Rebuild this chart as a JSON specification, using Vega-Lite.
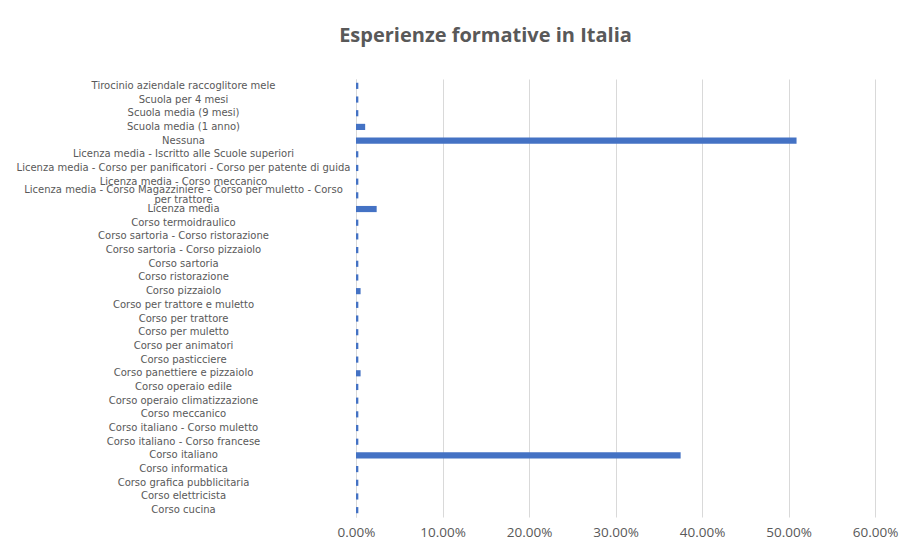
{
  "$schema": "https://vega.github.io/schema/vega-lite/v6.json",
  "autosize": {"type": "none"},
  "width": 519,
  "height": 438,
  "padding": {"left": 356, "top": 79, "right": 28, "bottom": 23},
  "background": "white",
  "title": {
    "text": "Esperienze formative in Italia",
    "font": "Open Sans",
    "fontSize": 20,
    "fontWeight": 700,
    "color": "#595959",
    "anchor": "middle",
    "frame": "group",
    "dx": -130,
    "offset": 33
  },
  "data": {
    "values": [
      {"cat": "Tirocinio aziendale raccoglitore mele", "v": 0.0027},
      {"cat": "Scuola per 4 mesi", "v": 0.0027},
      {"cat": "Scuola media (9 mesi)", "v": 0.0027},
      {"cat": "Scuola media (1 anno)", "v": 0.0106},
      {"cat": "Nessuna", "v": 0.5093},
      {"cat": "Licenza media - Iscritto alle Scuole superiori", "v": 0.0027},
      {"cat": "Licenza media - Corso per panificatori - Corso per patente di guida", "v": 0.0027},
      {"cat": "Licenza media - Corso meccanico", "v": 0.0027},
      {"cat": "Licenza media - Corso Magazziniere - Corso per muletto - Corso per trattore", "v": 0.0027},
      {"cat": "Licenza media", "v": 0.0239},
      {"cat": "Corso termoidraulico", "v": 0.0027},
      {"cat": "Corso sartoria - Corso ristorazione", "v": 0.0027},
      {"cat": "Corso sartoria - Corso pizzaiolo", "v": 0.0027},
      {"cat": "Corso sartoria", "v": 0.0027},
      {"cat": "Corso ristorazione", "v": 0.0027},
      {"cat": "Corso pizzaiolo", "v": 0.0053},
      {"cat": "Corso per trattore e muletto", "v": 0.0027},
      {"cat": "Corso per trattore", "v": 0.0027},
      {"cat": "Corso per muletto", "v": 0.0027},
      {"cat": "Corso per animatori", "v": 0.0027},
      {"cat": "Corso pasticciere", "v": 0.0027},
      {"cat": "Corso panettiere e pizzaiolo", "v": 0.0053},
      {"cat": "Corso operaio edile", "v": 0.0027},
      {"cat": "Corso operaio climatizzazione", "v": 0.0027},
      {"cat": "Corso meccanico", "v": 0.0027},
      {"cat": "Corso italiano - Corso muletto", "v": 0.0027},
      {"cat": "Corso italiano - Corso francese", "v": 0.0027},
      {"cat": "Corso italiano", "v": 0.3753},
      {"cat": "Corso informatica", "v": 0.0027},
      {"cat": "Corso grafica pubblicitaria", "v": 0.0027},
      {"cat": "Corso elettricista", "v": 0.0027},
      {"cat": "Corso cucina", "v": 0.0027}
    ]
  },
  "mark": {"type": "bar", "color": "#4472C4"},
  "encoding": {
    "y": {
      "field": "cat",
      "type": "nominal",
      "sort": null,
      "title": null,
      "scale": {"paddingInner": 0.55, "paddingOuter": 0.275},
      "axis": {
        "domain": true,
        "domainColor": "#d9d9d9",
        "ticks": false,
        "grid": false,
        "labelAlign": "center",
        "labelBaseline": "middle",
        "labelPadding": 173,
        "labelLimit": 400,
        "labelFont": "DejaVu Sans",
        "labelFontSize": 10,
        "labelColor": "#595959",
        "labelLineHeight": 10,
        "labelOffset": {"condition": {"test": "indexof(datum.label, 'Magazziniere') >= 0", "value": -5}, "value": 0},
        "labelExpr": "datum.label == 'Licenza media - Corso Magazziniere - Corso per muletto - Corso per trattore' ? ['Licenza media - Corso Magazziniere - Corso per muletto - Corso', 'per trattore'] : datum.label"
      }
    },
    "x": {
      "field": "v",
      "type": "quantitative",
      "title": null,
      "scale": {"domain": [0, 0.6], "nice": false},
      "axis": {
        "values": [0, 0.1, 0.2, 0.3, 0.4, 0.5, 0.6],
        "format": ".2%",
        "domain": false,
        "ticks": false,
        "grid": true,
        "gridColor": "#d9d9d9",
        "labelFlush": false,
        "labelFont": "Open Sans",
        "labelFontSize": 13.5,
        "labelColor": "#595959",
        "labelPadding": 8
      }
    }
  },
  "config": {"view": {"stroke": null}}
}
